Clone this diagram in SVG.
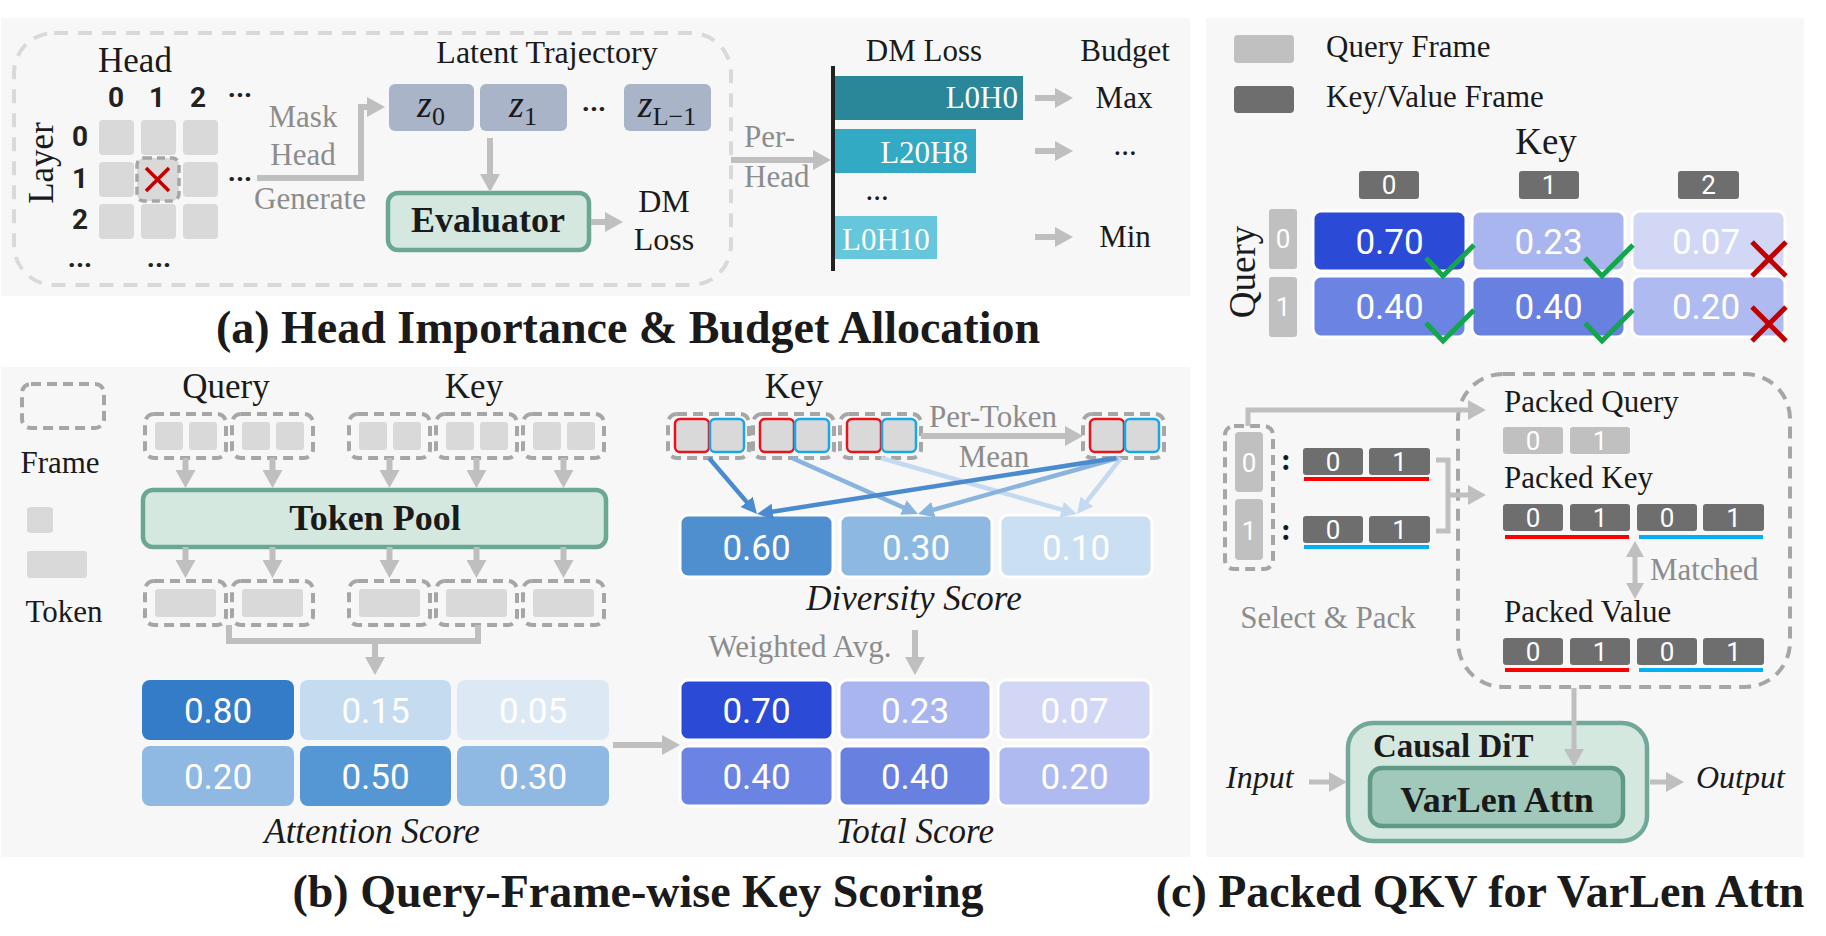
<svg xmlns="http://www.w3.org/2000/svg" width="1826" height="936" viewBox="0 0 1826 936">
<defs>
<style>
.bg{fill:#f7f7f7}
.t{font-family:"Liberation Serif","Times New Roman",serif;fill:#1a1a1a;font-size:31px}
.gt{font-family:"Liberation Serif","Times New Roman",serif;fill:#8c8c8c;font-size:31px}
.it{font-family:"Liberation Serif","Times New Roman",serif;fill:#1a1a1a;font-size:35px;font-style:italic}
.bt{font-family:"Liberation Serif","Times New Roman",serif;fill:#1a1a1a;font-weight:bold}
.ttl{font-family:"Liberation Serif","Times New Roman",serif;fill:#1a1a1a;font-weight:bold;font-size:46px;text-anchor:middle}
.n{font-family:Roboto,"Liberation Sans",sans-serif;fill:#ffffff;font-size:35px;text-anchor:middle}
.sn{font-family:Roboto,"Liberation Sans",sans-serif;fill:#ffffff;font-size:26px;text-anchor:middle}
.dg{font-family:Roboto,"Liberation Sans",sans-serif;fill:#222;font-size:28px;font-weight:bold;text-anchor:middle}
.m{text-anchor:middle}
.cell{fill:#d9d9d9}
.frm{fill:none;stroke:#a6a6a6;stroke-width:4;stroke-dasharray:10 6}
.tok{fill:#d9d9d9}
.grn{fill:#d5e8e0;stroke:#6aa894;stroke-width:4.5}
.lq{fill:#c0c0c0}
.kv{fill:#6e6e6e}
.wb{stroke:#ffffff;stroke-width:3}
.arr{fill:none;stroke:#bfbfbf;stroke-width:6}
.arr5{fill:none;stroke:#bfbfbf;stroke-width:5}
.rt{fill:#d9d9d9;stroke:#e8141c;stroke-width:2.5}
.bl{fill:#d9d9d9;stroke:#1aa7e6;stroke-width:2.5}
.chk{fill:none;stroke:#13a64a;stroke-width:5}
.x{stroke:#c00000;stroke-width:5}
</style>
<marker id="ah" viewBox="0 0 18 20" markerWidth="18" markerHeight="20" refX="5" refY="10" orient="auto" markerUnits="userSpaceOnUse"><path d="M0,0 L18,10 L0,20 z" fill="#bfbfbf"/></marker>
<marker id="ah2" viewBox="0 0 16 18" markerWidth="16" markerHeight="18" refX="4" refY="9" orient="auto-start-reverse" markerUnits="userSpaceOnUse"><path d="M0,0 L16,9 L0,18 z" fill="#bfbfbf"/></marker>
<marker id="bd" viewBox="0 0 16 16" markerWidth="16" markerHeight="16" refX="4" refY="8" orient="auto" markerUnits="userSpaceOnUse"><path d="M0,0 L16,8 L0,16 z" fill="#4a8bd0"/></marker>
<marker id="bm" viewBox="0 0 16 16" markerWidth="16" markerHeight="16" refX="4" refY="8" orient="auto" markerUnits="userSpaceOnUse"><path d="M0,0 L16,8 L0,16 z" fill="#8ab4e0"/></marker>
<marker id="bli" viewBox="0 0 16 16" markerWidth="16" markerHeight="16" refX="4" refY="8" orient="auto" markerUnits="userSpaceOnUse"><path d="M0,0 L16,8 L0,16 z" fill="#c5daf0"/></marker>
</defs>
<rect width="1826" height="936" fill="#ffffff"/>
<rect class="bg" x="1" y="18" width="1189" height="278"/>
<rect class="bg" x="1" y="367" width="1189" height="490"/>
<rect class="bg" x="1206" y="18" width="598" height="839"/>

<!-- Panel (a) -->
<g id="a-mask-box">
<rect x="14" y="33" width="717" height="252" rx="40" fill="none" stroke="#d9d9d9" stroke-width="4" stroke-dasharray="14 10"/>
</g>
<g id="a-head-grid">
<text class="t m" x="135" y="72" style="font-size:35px">Head</text>
<text class="dg" x="116" y="107">0</text><text class="dg" x="157" y="107">1</text><text class="dg" x="198" y="107">2</text><text class="dg" x="240" y="97">...</text>
<text class="t m" transform="translate(53,163) rotate(-90)" style="font-size:35px">Layer</text>
<text class="dg" x="80" y="146">0</text><text class="dg" x="80" y="188">1</text><text class="dg" x="80" y="229">2</text>
<rect class="cell" x="99" y="120" width="35" height="35" rx="4"/><rect class="cell" x="141" y="120" width="35" height="35" rx="4"/><rect class="cell" x="183" y="120" width="35" height="35" rx="4"/>
<rect class="cell" x="99" y="162" width="35" height="35" rx="4"/><rect class="cell" x="183" y="162" width="35" height="35" rx="4"/>
<rect class="cell" x="99" y="204" width="35" height="35" rx="4"/><rect class="cell" x="141" y="204" width="35" height="35" rx="4"/><rect class="cell" x="183" y="204" width="35" height="35" rx="4"/>
<rect x="137" y="158" width="42" height="43" rx="7" fill="#d9d9d9" stroke="#a6a6a6" stroke-width="3.5" stroke-dasharray="8 5"/>
<line x1="146" y1="168" x2="169" y2="191" stroke="#c00000" stroke-width="3.5"/><line x1="169" y1="168" x2="146" y2="191" stroke="#c00000" stroke-width="3.5"/>
<text class="dg" x="240" y="181">...</text>
<text class="dg" x="80" y="267">...</text><text class="dg" x="159" y="267">...</text>
</g>
<g id="a-mask-label">
<text class="gt m" x="303" y="127">Mask</text>
<text class="gt m" x="303" y="165">Head</text>
<text class="gt m" x="310" y="209">Generate</text>
</g>
<g id="a-latent">
<text class="t m" x="547" y="63" style="font-size:32px">Latent Trajectory</text>
<rect x="389" y="84" width="85" height="47" rx="6" fill="#a9b4c8"/>
<rect x="480" y="84" width="87" height="47" rx="6" fill="#a9b4c8"/>
<rect x="624" y="84" width="87" height="47" rx="6" fill="#a9b4c8"/>
<text class="t m" x="431" y="117" style="font-size:38px"><tspan font-style="italic">z</tspan><tspan style="font-size:26px" dy="8">0</tspan></text>
<text class="t m" x="523" y="117" style="font-size:38px"><tspan font-style="italic">z</tspan><tspan style="font-size:26px" dy="8">1</tspan></text>
<text class="t m" x="667" y="117" style="font-size:38px"><tspan font-style="italic">z</tspan><tspan style="font-size:26px" dy="8">L−1</tspan></text>
<text class="dg" x="594" y="111">...</text>
</g>
<g id="a-evaluator">
<rect class="grn" x="388" y="193" width="201" height="57" rx="10"/>
<text class="bt m" x="488" y="232" style="font-size:36px">Evaluator</text>
</g>
<g id="a-dmloss">
<text class="t m" x="664" y="212" style="font-size:32px">DM</text>
<text class="t m" x="664" y="250" style="font-size:32px">Loss</text>
</g>
<g id="a-perhead">
<text class="gt" x="744" y="147">Per-</text>
<text class="gt" x="744" y="187">Head</text>
</g>
<g id="a-bars">
<text class="t m" x="924" y="61">DM Loss</text>
<rect x="831" y="66" width="4" height="205" fill="#222"/>
<rect x="835" y="76" width="188" height="44" fill="#2a8799"/>
<text class="t" x="1018" y="108" style="fill:#fff" text-anchor="end">L0H0</text>
<rect x="835" y="129" width="141" height="44" fill="#33aac4"/>
<text class="t" x="968" y="163" style="fill:#fff" text-anchor="end">L20H8</text>
<text class="t m" x="877" y="200">...</text>
<rect x="835" y="216" width="102" height="43" fill="#66c6db"/>
<text class="t" x="842" y="250" style="fill:#fff">L0H10</text>
</g>
<g id="a-budget">
<text class="t m" x="1125" y="61">Budget</text>
<text class="t m" x="1124" y="108">Max</text>
<text class="t m" x="1125" y="155">...</text>
<text class="t m" x="1125" y="247">Min</text>
</g>
<text class="ttl" x="628" y="343">(a) Head Importance &amp; Budget Allocation</text>

<!-- Panel (b) -->
<g id="b-legend">
<rect class="frm" x="22" y="384" width="82" height="44" rx="9"/>
<text class="t m" x="60" y="473">Frame</text>
<rect class="tok" x="27" y="507" width="26" height="26" rx="3"/>
<rect class="tok" x="27" y="551" width="60" height="27" rx="3"/>
<text class="t m" x="64" y="622">Token</text>
</g>
<g id="b-input-frames">
<text class="t m" x="226" y="398" style="font-size:35px">Query</text>
<text class="t m" x="474" y="398" style="font-size:35px">Key</text>
<rect class="frm" x="145" y="414" width="81" height="44" rx="9"/><rect class="tok" x="155" y="422" width="28" height="28" rx="3"/><rect class="tok" x="189" y="422" width="28" height="28" rx="3"/>
<rect class="frm" x="232" y="414" width="81" height="44" rx="9"/><rect class="tok" x="242" y="422" width="28" height="28" rx="3"/><rect class="tok" x="276" y="422" width="28" height="28" rx="3"/>
<rect class="frm" x="349" y="414" width="81" height="44" rx="9"/><rect class="tok" x="359" y="422" width="28" height="28" rx="3"/><rect class="tok" x="393" y="422" width="28" height="28" rx="3"/>
<rect class="frm" x="436" y="414" width="81" height="44" rx="9"/><rect class="tok" x="446" y="422" width="28" height="28" rx="3"/><rect class="tok" x="480" y="422" width="28" height="28" rx="3"/>
<rect class="frm" x="523" y="414" width="81" height="44" rx="9"/><rect class="tok" x="533" y="422" width="28" height="28" rx="3"/><rect class="tok" x="567" y="422" width="28" height="28" rx="3"/>
</g>
<g id="b-token-pool">
<rect class="grn" x="143" y="490" width="463" height="57" rx="10"/>
<text class="bt m" x="375" y="530" style="font-size:36px">Token Pool</text>
</g>
<g id="b-pooled-frames">
<rect class="frm" x="145" y="581" width="81" height="44" rx="9"/><rect class="tok" x="155" y="589" width="61" height="28" rx="3"/>
<rect class="frm" x="232" y="581" width="81" height="44" rx="9"/><rect class="tok" x="242" y="589" width="61" height="28" rx="3"/>
<rect class="frm" x="349" y="581" width="81" height="44" rx="9"/><rect class="tok" x="359" y="589" width="61" height="28" rx="3"/>
<rect class="frm" x="436" y="581" width="81" height="44" rx="9"/><rect class="tok" x="446" y="589" width="61" height="28" rx="3"/>
<rect class="frm" x="523" y="581" width="81" height="44" rx="9"/><rect class="tok" x="533" y="589" width="61" height="28" rx="3"/>
</g>
<g id="b-attention-score">
<rect x="142" y="680" width="152" height="60" rx="8" fill="#347cc8"/><rect x="300" y="680" width="151" height="60" rx="8" fill="#c4dbf0"/><rect x="457" y="680" width="152" height="60" rx="8" fill="#dce9f5"/>
<rect x="142" y="746" width="152" height="60" rx="8" fill="#8fb9e3"/><rect x="300" y="746" width="151" height="60" rx="8" fill="#5597d5"/><rect x="457" y="746" width="152" height="60" rx="8" fill="#8fb9e3"/>
<text class="n" x="218" y="723">0.80</text><text class="n" x="375.5" y="723">0.15</text><text class="n" x="533" y="723">0.05</text>
<text class="n" x="218" y="789">0.20</text><text class="n" x="375.5" y="789">0.50</text><text class="n" x="533" y="789">0.30</text>
<text class="it m" x="372" y="843">Attention Score</text>
</g>
<g id="b-key-frames">
<text class="t m" x="794" y="398" style="font-size:35px">Key</text>
<rect class="frm" x="668" y="414" width="81" height="44" rx="9"/><rect class="rt" x="675" y="419" width="34" height="33" rx="5"/><rect class="bl" x="710" y="419" width="34" height="33" rx="5"/>
<rect class="frm" x="753" y="414" width="81" height="44" rx="9"/><rect class="rt" x="760" y="419" width="34" height="33" rx="5"/><rect class="bl" x="795" y="419" width="34" height="33" rx="5"/>
<rect class="frm" x="840" y="414" width="81" height="44" rx="9"/><rect class="rt" x="847" y="419" width="34" height="33" rx="5"/><rect class="bl" x="882" y="419" width="34" height="33" rx="5"/>
<rect class="frm" x="1083" y="414" width="81" height="44" rx="9"/><rect class="rt" x="1090" y="419" width="34" height="33" rx="5"/><rect class="bl" x="1125" y="419" width="34" height="33" rx="5"/>
<text class="gt m" x="993" y="427">Per-Token</text>
<text class="gt m" x="994" y="467">Mean</text>
</g>
<g id="b-diversity-score">
<rect class="wb" x="680" y="515" width="153" height="62" rx="8" fill="#4f8fd0"/><rect class="wb" x="840" y="515" width="152" height="62" rx="8" fill="#8db8e2"/><rect class="wb" x="1000" y="515" width="152" height="62" rx="8" fill="#cadff1"/>
<text class="n" x="756.5" y="560">0.60</text><text class="n" x="916" y="560">0.30</text><text class="n" x="1076" y="560">0.10</text>
<text class="it m" x="914" y="610">Diversity Score</text>
</g>
<g id="b-weighted">
<text class="gt m" x="800" y="657">Weighted Avg.</text>
</g>
<g id="b-total-score">
<rect class="wb" x="680" y="680" width="153" height="60" rx="8" fill="#2b4bd6"/><rect class="wb" x="839" y="680" width="152" height="60" rx="8" fill="#a9b5ee"/><rect class="wb" x="998" y="680" width="153" height="60" rx="8" fill="#d1d7f5"/>
<rect class="wb" x="680" y="746" width="153" height="60" rx="8" fill="#6b84e3"/><rect class="wb" x="839" y="746" width="152" height="60" rx="8" fill="#6880e0"/><rect class="wb" x="998" y="746" width="153" height="60" rx="8" fill="#afbaf0"/>
<text class="n" x="756.5" y="723">0.70</text><text class="n" x="915" y="723">0.23</text><text class="n" x="1074.5" y="723">0.07</text>
<text class="n" x="756.5" y="789">0.40</text><text class="n" x="915" y="789">0.40</text><text class="n" x="1074.5" y="789">0.20</text>
<text class="it m" x="915" y="843">Total Score</text>
</g>
<text class="ttl" x="638" y="907">(b) Query-Frame-wise Key Scoring</text>

<!-- Panel (c) -->
<g id="c-legend">
<rect class="lq" x="1234" y="35" width="60" height="28" rx="4"/>
<text class="t" x="1326" y="57">Query Frame</text>
<rect class="kv" x="1234" y="86" width="60" height="27" rx="4"/>
<text class="t" x="1326" y="107">Key/Value Frame</text>
</g>
<g id="c-score-matrix">
<text class="t m" x="1546" y="154" style="font-size:37px">Key</text>
<rect class="kv" x="1359" y="171" width="60" height="28" rx="3"/><rect class="kv" x="1519" y="171" width="60" height="28" rx="3"/><rect class="kv" x="1678" y="171" width="61" height="28" rx="3"/>
<text class="sn" x="1389" y="194">0</text><text class="sn" x="1549" y="194">1</text><text class="sn" x="1708.5" y="194">2</text>
<text class="t m" transform="translate(1255,272) rotate(-90)" style="font-size:37px">Query</text>
<rect class="lq" x="1269" y="209" width="28" height="60" rx="3"/><rect class="lq" x="1269" y="277" width="28" height="60" rx="3"/>
<text class="sn" x="1283" y="248">0</text><text class="sn" x="1283" y="316">1</text>
<rect class="wb" x="1313" y="211" width="153" height="60" rx="8" fill="#2b4bd6"/><rect class="wb" x="1472" y="211" width="153" height="60" rx="8" fill="#a9b5ee"/><rect class="wb" x="1632" y="211" width="153" height="60" rx="8" fill="#d1d7f5"/>
<rect class="wb" x="1313" y="276" width="153" height="61" rx="8" fill="#6b84e3"/><rect class="wb" x="1472" y="276" width="153" height="61" rx="8" fill="#6880e0"/><rect class="wb" x="1632" y="276" width="153" height="61" rx="8" fill="#afbaf0"/>
<text class="n" x="1389.5" y="254">0.70</text><text class="n" x="1548.5" y="254">0.23</text><text class="n" x="1706" y="254">0.07</text>
<text class="n" x="1389.5" y="319">0.40</text><text class="n" x="1548.5" y="319">0.40</text><text class="n" x="1706" y="319">0.20</text>
<polyline class="chk" points="1426,258 1443,276 1474,245"/><polyline class="chk" points="1585,258 1602,276 1633,245"/>
<polyline class="chk" points="1426,323 1443,341 1474,310"/><polyline class="chk" points="1585,323 1602,341 1633,310"/>
<line class="x" x1="1752" y1="242" x2="1786" y2="276"/><line class="x" x1="1786" y1="242" x2="1752" y2="276"/>
<line class="x" x1="1752" y1="307" x2="1786" y2="341"/><line class="x" x1="1786" y1="307" x2="1752" y2="341"/>
</g>
<g id="c-select">
<rect class="frm" x="1225" y="426" width="48" height="143" rx="9"/>
<rect class="lq" x="1235" y="432" width="28" height="60" rx="4"/><rect class="lq" x="1235" y="499" width="28" height="61" rx="4"/>
<text class="sn" x="1249" y="472">0</text><text class="sn" x="1249" y="540">1</text>
<text class="bt m" x="1286" y="470" style="font-size:31px">:</text><text class="bt m" x="1286" y="540" style="font-size:31px">:</text>
<rect class="kv" x="1303" y="448" width="60" height="27" rx="3"/><rect class="kv" x="1369" y="448" width="61" height="27" rx="3"/>
<text class="sn" x="1333" y="471">0</text><text class="sn" x="1399.5" y="471">1</text>
<rect x="1304" y="477" width="125" height="4" fill="#ff0000"/>
<rect class="kv" x="1303" y="516" width="60" height="27" rx="3"/><rect class="kv" x="1369" y="516" width="61" height="27" rx="3"/>
<text class="sn" x="1333" y="539">0</text><text class="sn" x="1399.5" y="539">1</text>
<rect x="1304" y="545" width="125" height="4" fill="#00b0f0"/>
<text class="gt m" x="1328" y="628">Select &amp; Pack</text>
</g>
<g id="c-packed">
<rect x="1458" y="374" width="332" height="313" rx="45" fill="none" stroke="#a6a6a6" stroke-width="4" stroke-dasharray="12 8"/>
<text class="t" x="1504" y="412">Packed Query</text>
<rect class="lq" x="1503" y="427" width="60" height="27" rx="3"/><rect class="lq" x="1570" y="427" width="60" height="27" rx="3"/>
<text class="sn" x="1533" y="450">0</text><text class="sn" x="1600" y="450">1</text>
<text class="t" x="1504" y="488">Packed Key</text>
<rect class="kv" x="1503" y="504" width="60" height="27" rx="3"/><rect class="kv" x="1570" y="504" width="60" height="27" rx="3"/><rect class="kv" x="1637" y="504" width="60" height="27" rx="3"/><rect class="kv" x="1703" y="504" width="61" height="27" rx="3"/>
<text class="sn" x="1533" y="527">0</text><text class="sn" x="1600" y="527">1</text><text class="sn" x="1667" y="527">0</text><text class="sn" x="1733.5" y="527">1</text>
<rect x="1505" y="535" width="124" height="4" fill="#ff0000"/><rect x="1639" y="535" width="124" height="4" fill="#00b0f0"/>
<text class="gt" x="1650" y="580">Matched</text>
<text class="t" x="1504" y="622">Packed Value</text>
<rect class="kv" x="1503" y="638" width="60" height="27" rx="3"/><rect class="kv" x="1570" y="638" width="60" height="27" rx="3"/><rect class="kv" x="1637" y="638" width="60" height="27" rx="3"/><rect class="kv" x="1703" y="638" width="61" height="27" rx="3"/>
<text class="sn" x="1533" y="661">0</text><text class="sn" x="1600" y="661">1</text><text class="sn" x="1667" y="661">0</text><text class="sn" x="1733.5" y="661">1</text>
<rect x="1505" y="668" width="124" height="4" fill="#ff0000"/><rect x="1639" y="668" width="124" height="4" fill="#00b0f0"/>
</g>
<g id="c-causal-dit">
<rect x="1348" y="723" width="299" height="118" rx="25" fill="#d5e8e0" stroke="#72a898" stroke-width="4.5"/>
<text class="bt" x="1373" y="757" style="font-size:33px">Causal DiT</text>
<rect x="1370" y="768" width="253" height="58" rx="12" fill="#a0c8bb" stroke="#5f9a86" stroke-width="4.5"/>
<text class="bt m" x="1497" y="812" style="font-size:36px">VarLen Attn</text>
</g>
<g id="c-io">
<text class="it" x="1226" y="788" style="font-size:32px">Input</text>
<text class="it" x="1696" y="788" style="font-size:32px">Output</text>
</g>
<text class="ttl" x="1480" y="907">(c) Packed QKV for VarLen Attn</text>

<!-- Connectors -->
<g id="connectors">
<path class="arr" d="M257,178 H361 V107 H372" marker-end="url(#ah)"/>
<path class="arr" d="M490,138 V179" marker-end="url(#ah)"/>
<path class="arr" d="M591,222 H610" marker-end="url(#ah)"/>
<path class="arr" d="M731,160 H818" marker-end="url(#ah)"/>
<path class="arr" d="M1035,98 H1060" marker-end="url(#ah)"/>
<path class="arr" d="M1035,151 H1060" marker-end="url(#ah)"/>
<path class="arr" d="M1035,237 H1060" marker-end="url(#ah)"/>
<path class="arr" d="M185.5,458 V475" marker-end="url(#ah)"/>
<path class="arr" d="M272.5,458 V475" marker-end="url(#ah)"/>
<path class="arr" d="M389.5,458 V475" marker-end="url(#ah)"/>
<path class="arr" d="M476.5,458 V475" marker-end="url(#ah)"/>
<path class="arr" d="M563.5,458 V475" marker-end="url(#ah)"/>
<path class="arr" d="M185.5,547 V565" marker-end="url(#ah)"/>
<path class="arr" d="M272.5,547 V565" marker-end="url(#ah)"/>
<path class="arr" d="M389.5,547 V565" marker-end="url(#ah)"/>
<path class="arr" d="M476.5,547 V565" marker-end="url(#ah)"/>
<path class="arr" d="M563.5,547 V565" marker-end="url(#ah)"/>
<path class="arr" d="M229,625 V641 H478 V625"/>
<path class="arr" d="M375,641 V662" marker-end="url(#ah)"/>
<path class="arr" d="M613,745 H667" marker-end="url(#ah)"/>
<path class="arr" d="M921,436 H1070" marker-end="url(#ah)"/>
<line x1="881" y1="458" x2="1065.5" y2="510.7" stroke="#c5daf0" stroke-width="4.5" marker-end="url(#bli)"/>
<line x1="1121" y1="458" x2="1084.4" y2="504.6" stroke="#c5daf0" stroke-width="4.5" marker-end="url(#bli)"/>
<line x1="792" y1="458" x2="907" y2="509.1" stroke="#8ab4e0" stroke-width="4.5" marker-end="url(#bm)"/>
<line x1="1118" y1="458" x2="929.6" y2="510.8" stroke="#8ab4e0" stroke-width="4.5" marker-end="url(#bm)"/>
<line x1="709" y1="458" x2="749.2" y2="504.9" stroke="#4a8bd0" stroke-width="4.5" marker-end="url(#bd)"/>
<line x1="1116" y1="458" x2="768.9" y2="512.2" stroke="#4a8bd0" stroke-width="4.5" marker-end="url(#bd)"/>
<path class="arr" d="M915,630 V662" marker-end="url(#ah)"/>
<path class="arr5" d="M1248,426 V410 H1473" marker-end="url(#ah)"/>
<path class="arr5" d="M1436,460 H1448 V531 H1436 M1448,495 H1473" marker-end="url(#ah)"/>
<path class="arr5" d="M1635,553 V587" marker-start="url(#ah2)" marker-end="url(#ah2)"/>
<path class="arr5" d="M1574,688 V754" marker-end="url(#ah)"/>
<path class="arr5" d="M1309,782 H1334" marker-end="url(#ah)"/>
<path class="arr5" d="M1650,782 H1671" marker-end="url(#ah)"/>
</g>
</svg>
